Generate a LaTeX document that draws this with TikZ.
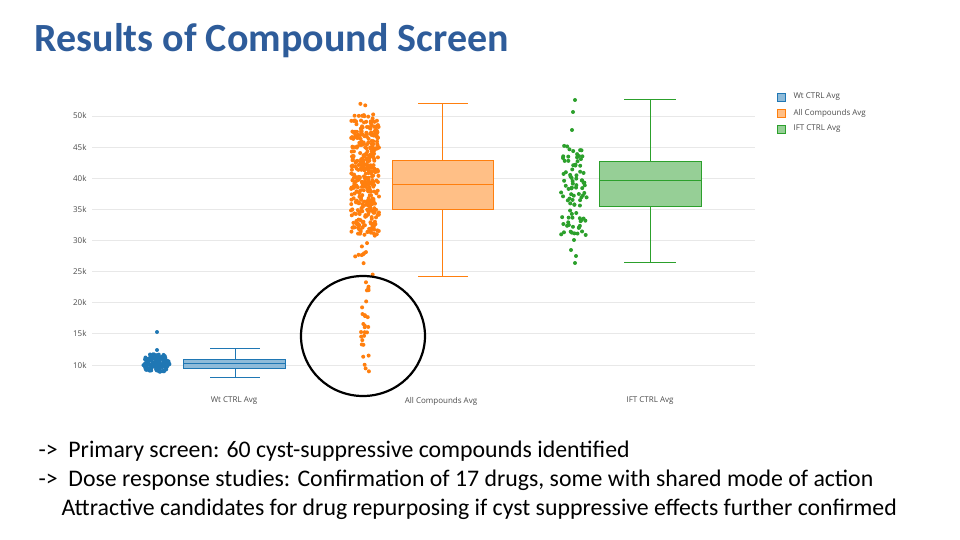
\documentclass[tikz,border=0pt]{standalone}
\usepackage{fontspec}
\setmainfont{Carlito}
\newfontfamily\chartfont{Open Sans}
\definecolor{pb}{HTML}{1F77B4}
\definecolor{po}{HTML}{FF7F0E}
\definecolor{pg}{HTML}{2CA02C}
\definecolor{ttl}{HTML}{2E5C9A}
\definecolor{grd}{HTML}{E8E8E8}
\begin{document}
\begin{tikzpicture}[x=1pt,y=-1pt,
  tick/.style={anchor=east,font=\chartfont\fontsize{8}{9}\selectfont,text=black!70},
  cat/.style={font=\chartfont\fontsize{8}{9}\selectfont,text=black!70},
  body/.style={font=\fontsize{23.8}{26}\selectfont,anchor=west}]
\useasboundingbox (0,0) rectangle (960,540);
\pgfmathsetseed{7}
% grid
\foreach \v in {10,15,...,50}{
  \pgfmathsetmacro\yy{365-(\v-10)*6.225}
  \draw[grd,line width=0.8] (92,\yy) -- (755,\yy);
  \node[tick] at (90,\yy) {\v k};
}
\node[anchor=west,font=\fontsize{40}{42}\selectfont\bfseries,text=ttl] (title) at (31,41) {Results of Compound Screen};
% blue scatter
\foreach \i in {1,...,120}{
  \pgfmathsetmacro\yy{363+9*rand}
  \pgfmathsetmacro\xx{156+(14-abs(\yy-363)*0.6)*rand}
  \fill[pb] (\xx,\yy) circle (2);
}
\fill[pb] (157,332) circle (2);
\fill[pb] (157,350) circle (2);
% blue box
\draw[pb,line width=1] (235,348) -- (235,359) (235,368) -- (235,377) (210,348) -- (260,348) (210,377) -- (260,377);
\draw[pb,line width=1,fill=pb!50] (183,359) rectangle (285,368);
\draw[pb,line width=1] (183,363) -- (285,363);
% orange scatter
\foreach \i in {1,...,350}{
  \pgfmathsetmacro\yy{115+rnd*120}
  \pgfmathsetmacro\xx{365+14*rand}
  \fill[po] (\xx,\yy) circle (2);
}
\foreach \i in {1,...,60}{
  \pgfmathsetmacro\yy{103+rnd*172}
  \pgfmathsetmacro\xx{365+10*rand}
  \fill[po] (\xx,\yy) circle (2);
}
\foreach \i in {1,...,28}{
  \pgfmathsetmacro\yy{275+rnd*97}
  \pgfmathsetmacro\xx{365+4*rand}
  \fill[po] (\xx,\yy) circle (2);
}
\draw[po,line width=1] (442,104) -- (442,161) (442,209) -- (442,276) (418,104) -- (468,104) (418,276) -- (468,276);
\draw[po,line width=1,fill=po!50] (392,161) rectangle (493,209);
\draw[po,line width=1] (392,184) -- (493,184);
% green scatter
\foreach \i in {1,...,90}{
  \pgfmathsetmacro\yy{190+45*rand}
  \pgfmathsetmacro\xx{574+13*rand}
  \fill[pg] (\xx,\yy) circle (2);
}
\foreach \p in {(575,100),(573,112),(572,130),(574,240),(576,256),(575,263),(571,250)}
  \fill[pg] \p circle (2);
\draw[pg,line width=1] (650,100) -- (650,162) (650,206) -- (650,262) (624,100) -- (676,100) (624,262) -- (676,262);
\draw[pg,line width=1,fill=pg!50] (599,162) rectangle (701,206);
\draw[pg,line width=1] (599,181) -- (701,181);
% circle
\draw[black,line width=2.2] (363,336) ellipse (62 and 60);
% categories
\node[cat] (c1) at (234,401) {Wt CTRL Avg};
\node[cat] (c2) at (441,401) {All Compounds Avg};
\node[cat] (c3) at (650,401) {IFT CTRL Avg};
% legend
\foreach \c/\t/\yy in {pb/Wt CTRL Avg/97,po/All Compounds Avg/113,pg/IFT CTRL Avg/129}{
  \draw[\c,fill=\c!50,line width=0.8] (777,\yy-4) rectangle (785,\yy+4);
  \node[cat,anchor=west] at (790,\yy) {\t};
}
% text
\node[body] (l1) at (35,451) {->\ \ Primary screen: 60 cyst-suppressive compounds identified};
\node[body] (l2) at (35,480) {->\ \ Dose response studies: Confirmation of 17 drugs, some with shared mode of action};
\node[body] (l3) at (58,509) {Attractive candidates for drug repurposing if cyst suppressive effects further confirmed};
\end{tikzpicture}
\end{document}
